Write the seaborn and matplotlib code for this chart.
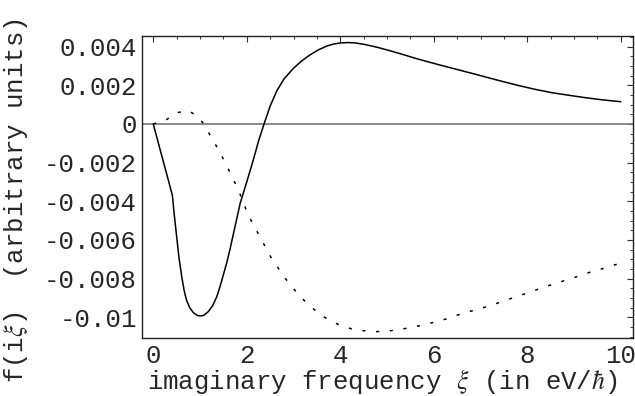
import matplotlib
matplotlib.use("Agg")
import matplotlib.pyplot as plt
import seaborn as sns
from matplotlib.ticker import FixedLocator, FixedFormatter, MultipleLocator

# ---- data ----
solid_x = [0.0, 0.1, 0.2, 0.3, 0.41, 0.45, 0.5, 0.55, 0.61, 0.66, 0.71, 0.78, 0.86, 0.94,
           1.01, 1.08, 1.18, 1.27, 1.36, 1.43, 1.5, 1.57, 1.64, 1.75, 1.86, 2.0, 2.14,
           2.25, 2.37, 2.5, 2.64, 2.8, 3.0, 3.17, 3.35, 3.53, 3.71, 3.85, 4.0, 4.15,
           4.3, 4.53, 4.8, 5.06, 5.33, 5.6, 5.87, 6.13, 6.4, 6.67, 6.94, 7.2, 7.5,
           7.81, 8.15, 8.52, 8.9, 9.24, 9.6, 10.0]
solid_y = [0.0, -0.0009, -0.0018, -0.0027, -0.0037, -0.0047, -0.0058, -0.0069, -0.0079,
           -0.0086, -0.0091, -0.0095, -0.00976, -0.0099, -0.00993, -0.0099, -0.0097,
           -0.0094, -0.00893, -0.0084, -0.0078, -0.0072, -0.0065, -0.0053, -0.0041,
           -0.0030, -0.00186, -0.0009, 0.0, 0.00092, 0.0017, 0.00234, 0.00288, 0.00325,
           0.00357, 0.00383, 0.00403, 0.00413, 0.00419, 0.00421, 0.0042, 0.00411,
           0.00396, 0.00379, 0.0036, 0.0034, 0.00322, 0.00305, 0.00288, 0.00271,
           0.00254, 0.00237, 0.00218, 0.00199, 0.0018, 0.00162, 0.00148, 0.00136,
           0.00125, 0.00115]

dotted_x = [0.0, 0.25, 0.5, 0.75, 0.96, 1.11, 1.25, 1.39, 1.58, 1.82, 2.03, 2.28, 2.53,
            2.82, 3.14, 3.53, 3.78, 3.99, 4.24, 4.49, 4.78, 5.03, 5.28, 5.55, 5.81, 6.06,
            6.31, 6.56, 6.81, 7.06, 7.31, 7.56, 7.81, 8.06, 8.31, 8.56, 8.81, 9.06, 9.31,
            9.56, 9.81, 10.0]
dotted_y = [0.0, 0.00017, 0.00058, 0.00069, 0.00038, -0.0001, -0.00074, -0.0013, -0.0022,
            -0.0034, -0.0047, -0.00583, -0.00695, -0.00798, -0.00893, -0.00979, -0.01017,
            -0.0104, -0.0106, -0.01069, -0.01074, -0.01071, -0.01062, -0.01052, -0.01036,
            -0.01023, -0.01005, -0.00984, -0.00967, -0.0095, -0.00931, -0.0091, -0.0089,
            -0.00869, -0.00848, -0.00828, -0.00809, -0.0079, -0.00769, -0.00752, -0.00733,
            -0.0072]

x_ticks = [0, 2, 4, 6, 8, 10]
x_tick_labels = ["0", "2", "4", "6", "8", "10"]
y_ticks = [0.004, 0.002, 0.0, -0.002, -0.004, -0.006, -0.008, -0.01]
y_tick_labels = ["0.004", "0.002", "0", "-0.002", "-0.004", "-0.006", "-0.008", "-0.01"]

x_label = r"imaginary frequency $\xi$ (in eV/$\hbar$)"
y_label = r"f(i$\xi$)  (arbitrary units)"

# ---- style ----
sns.set_style("white")
plt.rcParams["font.family"] = ["Liberation Mono", "DejaVu Sans"]
plt.rcParams["mathtext.fontset"] = "stix"
FS = 18.5

fig = plt.figure(figsize=(6.35, 3.96), dpi=100)
ax = fig.add_axes([142 / 635, 1 - 338 / 396, (633 - 142) / 635, (338 - 36) / 396])

ax.axhline(0, color="#808080", lw=1.3, zorder=1)
sns.lineplot(x=solid_x, y=solid_y, ax=ax, color="black", lw=1.1, sort=False,
             estimator=None, zorder=3)
sns.lineplot(x=dotted_x, y=dotted_y, ax=ax, color="black", lw=1.1, sort=False,
             estimator=None, zorder=3, linestyle=(0, (2, 7)))

ax.set_xlim(-0.24, 10.26)
ax.set_ylim(-0.01107, 0.00455)

ax.xaxis.set_major_locator(FixedLocator(x_ticks))
ax.xaxis.set_major_formatter(FixedFormatter(x_tick_labels))
ax.xaxis.set_minor_locator(MultipleLocator(0.5))
ax.yaxis.set_major_locator(FixedLocator(y_ticks))
ax.yaxis.set_major_formatter(FixedFormatter(y_tick_labels))
ax.yaxis.set_minor_locator(MultipleLocator(0.0005))

ax.tick_params(which="both", direction="in", top=True, right=True, color="#333333")
ax.tick_params(which="major", length=4.5, width=0.8, labelsize=FS, pad=3.5)
ax.tick_params(which="minor", length=2.5, width=0.7)
ax.tick_params(axis="x", which="major", pad=4)

for s in ax.spines.values():
    s.set_color("#222222")
    s.set_linewidth(1.0)
    s.set_visible(True)

ax.set_xlabel(x_label, fontsize=FS)
ax.set_ylabel(y_label, fontsize=FS)
ax.xaxis.set_label_coords(0.49, -0.097)
ax.yaxis.set_label_coords(-0.228, 0.455)

fig.savefig("out.png", dpi=100)
